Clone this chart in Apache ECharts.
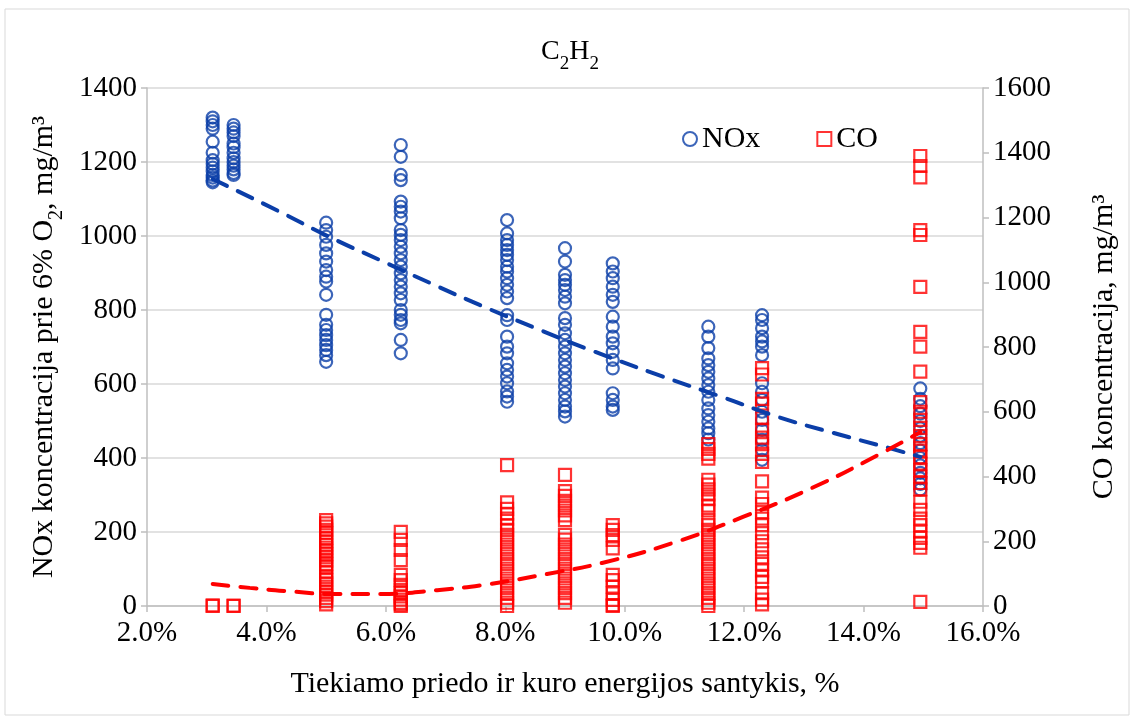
<!DOCTYPE html>
<html>
<head>
<meta charset="utf-8">
<title>C2H2</title>
<script src="https://cdn.jsdelivr.net/npm/echarts@6/dist/echarts.min.js"></script>
<style>
  html, body { margin: 0; padding: 0; background: #fff; }
  #chart { width: 1134px; height: 721px; }
</style>
</head>
<body>
<div id="chart"></div>
<script>
// measuring columns (share of additive energy, %)
const xCols = [3.1, 3.45, 5.0, 6.25, 8.03, 9.0, 9.8, 11.4, 12.3, 14.95];

// NOx, mg/m3 (left axis), one list per column
const noxValues = [
  [1320, 1310, 1300, 1290, 1255, 1225, 1205, 1195, 1185, 1175, 1165, 1158, 1150, 1145],
  [1300, 1290, 1280, 1270, 1250, 1240, 1225, 1210, 1200, 1190, 1180, 1170, 1165],
  [1036, 1016, 998, 976, 953, 931, 908, 890, 877, 841, 787, 760, 746, 732, 719, 705, 692, 678, 660],
  [1246, 1214, 1165, 1151, 1093, 1079, 1066, 1048, 1016, 1003, 989, 971, 953, 935, 917, 899, 881, 863, 845, 827, 800, 787, 773, 764, 719, 683],
  [1043, 1007, 989, 976, 962, 949, 935, 917, 904, 886, 868, 850, 832, 786, 773, 728, 701, 683, 656, 638, 620, 602, 580, 566, 552],
  [967, 931, 895, 881, 868, 854, 836, 818, 778, 760, 737, 719, 701, 683, 665, 647, 629, 611, 593, 575, 557, 539, 526, 512],
  [926, 904, 886, 863, 841, 822, 782, 755, 728, 710, 687, 665, 642, 575, 557, 539, 530],
  [755, 728, 697, 669, 651, 633, 615, 597, 579, 557, 534, 516, 498, 480, 467, 450],
  [786, 773, 751, 728, 715, 701, 678, 602, 579, 557, 525, 503, 476, 449, 422, 395],
  [588, 560, 540, 520, 500, 480, 460, 440, 420, 400, 380, 360, 345, 330, 315]
];

// CO, mg/m3 (right axis), one list per column
const coValues = [
  [0, 2],
  [0, 1],
  [265, 255, 245, 235, 225, 210, 200, 190, 180, 170, 160, 150, 140, 130, 120, 105, 90, 80, 70, 60, 45, 35, 25, 15, 5],
  [229, 204, 173, 142, 96, 80, 65, 50, 40, 30, 20, 10, 5, 0],
  [435, 320, 300, 285, 270, 250, 235, 220, 205, 190, 175, 160, 145, 130, 115, 100, 85, 70, 55, 40, 25, 10, 0],
  [405, 355, 340, 325, 310, 295, 280, 265, 220, 205, 190, 175, 160, 145, 130, 115, 100, 85, 70, 55, 40, 25, 10],
  [250, 235, 219, 204, 178, 96, 80, 60, 39, 19, 3, 0],
  [500, 485, 470, 455, 390, 375, 360, 345, 330, 310, 295, 265, 250, 235, 220, 205, 190, 175, 160, 145, 130, 115, 100, 85, 70, 55, 40, 25, 10, 0],
  [735, 715, 640, 625, 580, 545, 520, 500, 470, 445, 385, 335, 315, 290, 270, 250, 225, 200, 175, 150, 130, 110, 90, 75, 40, 20, 5],
  [1390, 1359, 1324, 1161, 1146, 986, 847, 801, 724, 630, 600, 575, 550, 525, 500, 480, 460, 440, 420, 400, 380, 360, 322, 297, 270, 250, 230, 210, 195, 180, 13]
];

// trend lines
const noxTrendX = [3.1, 4.23, 5.06, 5.9, 6.74, 7.61, 8.46, 9.34, 10.5, 11.68, 12.57, 13.49, 14.36, 14.95];
const noxTrendY = [1154, 1065, 997, 935, 873, 811, 754, 697, 628, 562, 511, 468, 430, 403];
const coTrendX = [3.1, 3.72, 4.34, 5.18, 5.9, 6.86, 7.74, 8.7, 9.62, 10.81, 11.98, 13.14, 14.24, 14.95];
const coTrendY = [68, 56, 46, 37, 37, 49, 68, 99, 133, 195, 275, 365, 466, 537];

const xTicks = [2, 4, 6, 8, 10, 12, 14, 16];

const blue = '#0B3EA8';
const red = '#FF0000';
const font = '"Liberation Serif", "Times New Roman", serif';

function pairs(xs, lists) {
  const out = [];
  lists.forEach((list, i) => {
    list.forEach(v => out.push([xs[i], v]));
  });
  return out;
}

function zip(xs, ys) {
  return xs.map((x, i) => [x, ys[i]]);
}

const chart = echarts.init(document.getElementById('chart'));
const option = {
  backgroundColor: '#fff',
  animation: false,
  textStyle: { fontFamily: font, color: '#000' },
  graphic: [{
    type: 'rect',
    shape: { x: 5, y: 9, width: 1124, height: 706 },
    style: { fill: 'none', stroke: '#D9D9D9', lineWidth: 1 },
    silent: true
  }],
  title: {
    text: 'C{sub|2}H{sub|2}',
    left: 565,
    textAlign: 'center',
    top: 33,
    textStyle: {
      fontFamily: font,
      fontWeight: 'normal',
      fontSize: 28,
      color: '#000',
      rich: {
        sub: { fontFamily: font, fontSize: 19, verticalAlign: 'bottom', padding: [0, 0, -8, 0], color: '#000' }
      }
    }
  },
  legend: {
    data: ['NOx', 'CO'],
    left: 677,
    top: 119,
    itemWidth: 14,
    itemHeight: 14,
    itemGap: 56,
    textStyle: { fontFamily: font, fontSize: 30, color: '#000' }
  },
  grid: { left: 147, right: 151, top: 88, bottom: 115 },
  xAxis: {
    type: 'value',
    min: 2,
    max: 16,
    interval: 2,
    name: 'Tiekiamo priedo ir kuro energijos santykis, %',
    nameLocation: 'middle',
    nameGap: 63,
    nameTextStyle: { fontFamily: font, fontSize: 30, color: '#000' },
    axisLine: { show: true, onZero: false, lineStyle: { color: '#BFBFBF', width: 1.5 } },
    axisTick: { show: true, length: 6, lineStyle: { color: '#BFBFBF', width: 1.5 } },
    splitLine: { show: false },
    axisLabel: {
      fontFamily: font, fontSize: 29, color: '#000', margin: 13,
      formatter: v => xTicks.indexOf(v) >= 0 ? v.toFixed(1) + '%' : ''
    }
  },
  yAxis: [{
    type: 'value',
    min: 0,
    max: 1400,
    interval: 200,
    position: 'left',
    name: 'NOx koncentracija prie 6% O{sub|2}, mg/m³',
    nameLocation: 'middle',
    nameRotate: 90,
    nameGap: 88,
    nameTextStyle: {
      fontFamily: font, fontSize: 30, color: '#000',
      rich: { sub: { fontFamily: font, fontSize: 20, verticalAlign: 'bottom', padding: [0, 0, -8, 0], color: '#000' } }
    },
    axisLine: { show: true, lineStyle: { color: '#BFBFBF', width: 1.5 } },
    axisTick: { show: true, length: 6, lineStyle: { color: '#BFBFBF', width: 1.5 } },
    splitLine: { show: true, lineStyle: { color: '#D9D9D9', width: 1.5 } },
    axisLabel: { fontFamily: font, fontSize: 29, color: '#000', margin: 10, formatter: v => String(v) }
  }, {
    type: 'value',
    min: 0,
    max: 1600,
    interval: 200,
    position: 'right',
    name: 'CO koncentracija, mg/m³',
    nameLocation: 'middle',
    nameRotate: 90,
    nameGap: 106,
    nameTextStyle: { fontFamily: font, fontSize: 30, color: '#000' },
    axisLine: { show: true, lineStyle: { color: '#BFBFBF', width: 1.5 } },
    axisTick: { show: true, length: 6, lineStyle: { color: '#BFBFBF', width: 1.5 } },
    splitLine: { show: false },
    axisLabel: { fontFamily: font, fontSize: 29, color: '#000', margin: 10, formatter: v => String(v) }
  }],
  series: [{
    name: 'NOx',
    type: 'scatter',
    yAxisIndex: 0,
    symbol: 'circle',
    symbolSize: 12,
    itemStyle: { color: 'rgba(255,255,255,0)', borderColor: blue, borderWidth: 2.2 },
    data: pairs(xCols, noxValues)
  }, {
    name: 'CO',
    type: 'scatter',
    yAxisIndex: 1,
    symbol: 'rect',
    symbolSize: 12,
    itemStyle: { color: 'rgba(255,255,255,0)', borderColor: red, borderWidth: 2.2 },
    data: pairs(xCols, coValues)
  }, {
    name: 'NOx trend',
    type: 'line',
    yAxisIndex: 0,
    smooth: true,
    showSymbol: false,
    symbol: 'none',
    lineStyle: { color: blue, width: 4, type: [16, 12], cap: 'round' },
    data: zip(noxTrendX, noxTrendY)
  }, {
    name: 'CO trend',
    type: 'line',
    yAxisIndex: 1,
    smooth: true,
    showSymbol: false,
    symbol: 'none',
    lineStyle: { color: red, width: 4, type: [16, 12], cap: 'round' },
    data: zip(coTrendX, coTrendY)
  }]
};
chart.setOption(option);
</script>
</body>
</html>
